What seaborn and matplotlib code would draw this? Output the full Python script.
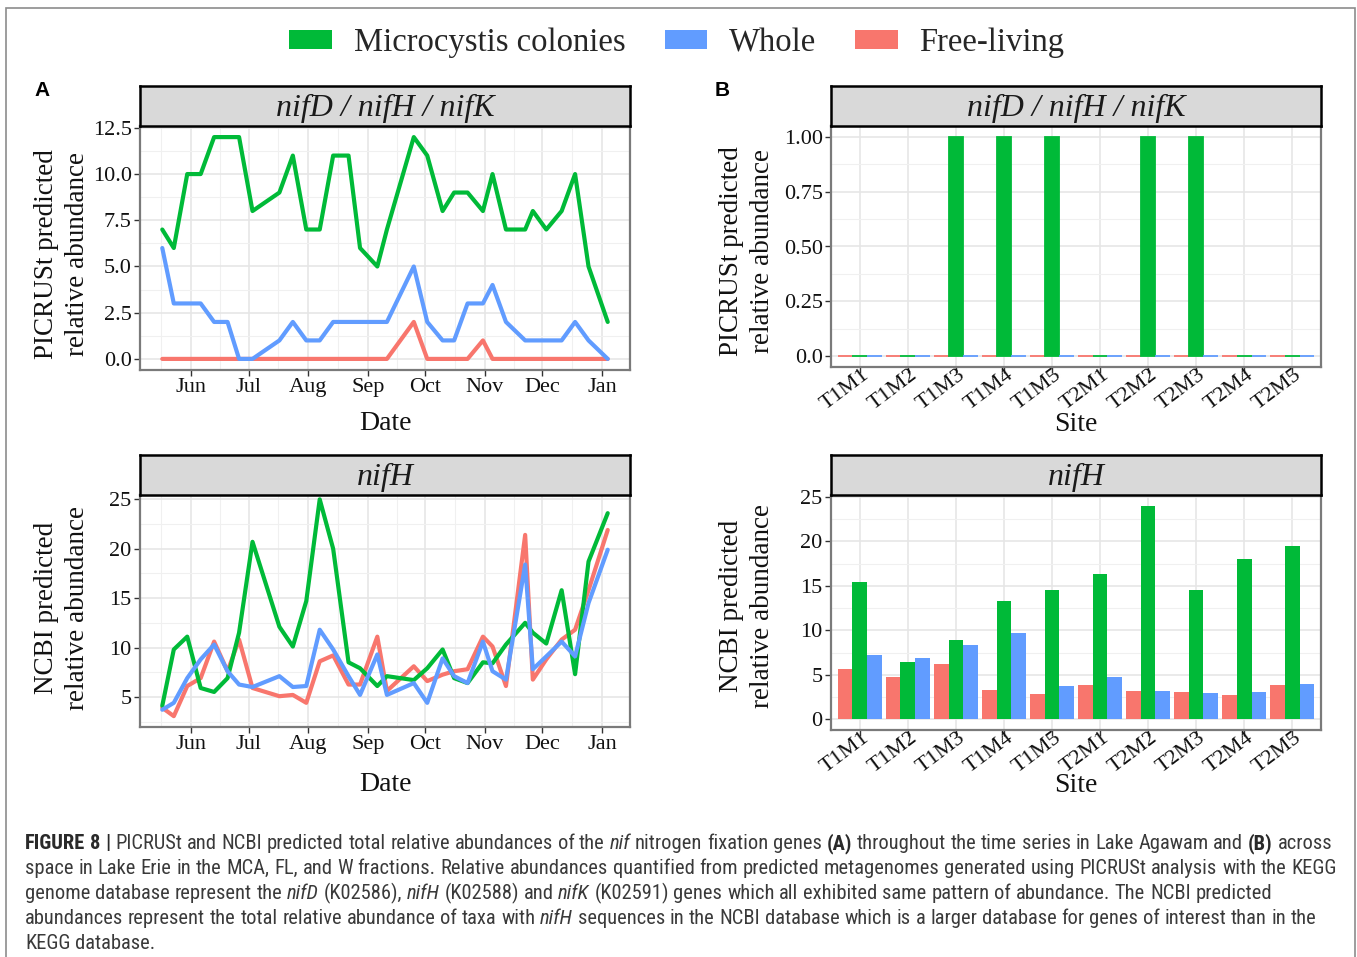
import numpy as np
import pandas as pd
import matplotlib
matplotlib.use("Agg")
import matplotlib.pyplot as plt
import matplotlib.dates as mdates
from matplotlib.patches import Patch, Rectangle
from matplotlib.ticker import FixedLocator, AutoMinorLocator
from matplotlib.transforms import ScaledTranslation
from matplotlib import font_manager
import seaborn as sns

# ---------------- data ----------------
dates = ["2016-05-17", "2016-05-23", "2016-05-30", "2016-06-06", "2016-06-13", "2016-06-20",
         "2016-06-26", "2016-07-03", "2016-07-17", "2016-07-24", "2016-07-31", "2016-08-07",
         "2016-08-14", "2016-08-22", "2016-08-28", "2016-09-06", "2016-09-11", "2016-09-25",
         "2016-10-02", "2016-10-10", "2016-10-16", "2016-10-23", "2016-10-31", "2016-11-05",
         "2016-11-12", "2016-11-22", "2016-11-26", "2016-12-03", "2016-12-11", "2016-12-18",
         "2016-12-25", "2017-01-04"]

picrust_microcystis = [7, 6, 10, 10, 12, 12, 12, 8, 9, 11, 7, 7, 11, 11, 6, 5, 7, 12,
                       11, 8, 9, 9, 8, 10, 7, 7, 8, 7, 8, 10, 5, 2]
picrust_whole = [6, 3, 3, 3, 2, 2, 0, 0, 1, 2, 1, 1, 2, 2, 2, 2, 2, 5,
                 2, 1, 1, 3, 3, 4, 2, 1, 1, 1, 1, 2, 1, 0]
picrust_free = [0, 0, 0, 0, 0, 0, 0, 0, 0, 0, 0, 0, 0, 0, 0, 0, 0, 2,
                0, 0, 0, 0, 1, 0, 0, 0, 0, 0, 0, 0, 0, 0]

ncbi_microcystis = [4.1, 9.8, 11.1, 5.9, 5.5, 6.9, 11.5, 20.7, 12.1, 10.1, 14.7, 25.0,
                    20.0, 8.5, 7.9, 6.1, 7.1, 6.7, 7.9, 9.8, 6.9, 6.4, 8.5, 8.4,
                    10.3, 12.5, 11.5, 10.4, 15.8, 7.3, 18.7, 23.6]
ncbi_whole = [3.7, 4.4, 6.9, 8.8, 10.3, 7.6, 6.25, 6.0, 7.1, 6.0, 6.1, 11.8,
              9.8, 7.1, 5.2, 9.3, 5.2, 6.4, 4.4, 8.9, 7.1, 6.4, 10.6, 7.6,
              6.75, 18.4, 7.8, 9.1, 10.6, 9.1, 14.5, 19.9]
ncbi_free = [3.9, 3.05, 6.1, 6.9, 10.6, 7.6, 10.8, 5.9, 5.07, 5.2, 4.4, 8.6,
             9.2, 6.25, 6.25, 11.1, 5.6, 8.1, 6.6, 7.25, 7.6, 7.8, 11.1, 10.1,
             6.1, 21.4, 6.75, 8.8, 10.8, 11.8, 15.8, 21.9]

sites = ["T1M1", "T1M2", "T1M3", "T1M4", "T1M5", "T2M1", "T2M2", "T2M3", "T2M4", "T2M5"]
site_picrust_free = [0, 0, 0, 0, 0, 0, 0, 0, 0, 0]
site_picrust_microcystis = [0, 0, 1, 1, 1, 0, 1, 1, 0, 0]
site_picrust_whole = [0, 0, 0, 0, 0, 0, 0, 0, 0, 0]
site_ncbi_free = [5.7, 4.7, 6.25, 3.3, 2.85, 3.85, 3.2, 3.1, 2.7, 3.85]
site_ncbi_microcystis = [15.4, 6.4, 8.9, 13.25, 14.55, 16.3, 24.0, 14.5, 18.0, 19.45]
site_ncbi_whole = [7.2, 6.85, 8.4, 9.7, 3.75, 4.8, 3.2, 2.95, 3.1, 4.0]

fractions = ["Free-living", "Microcystis colonies", "Whole"]
legend_order = ["Microcystis colonies", "Whole", "Free-living"]
colors = {"Free-living": "#F8766D", "Microcystis colonies": "#00BA38", "Whole": "#619CFF"}

strip_labels = ["nifD / nifH / nifK", "nifH"]
ylabels = ["PICRUSt predicted\nrelative abundance", "NCBI predicted\nrelative abundance"]


def long_time(free, mic, whole):
    d = pd.to_datetime(dates)
    parts = []
    for name, vals in zip(fractions, [free, mic, whole]):
        parts.append(pd.DataFrame({"date": d, "value": vals, "fraction": name}))
    return pd.concat(parts, ignore_index=True)


def long_site(free, mic, whole):
    parts = []
    for name, vals in zip(fractions, [free, mic, whole]):
        parts.append(pd.DataFrame({"site": sites, "value": vals, "fraction": name}))
    return pd.concat(parts, ignore_index=True)


dfA1 = long_time(picrust_free, picrust_microcystis, picrust_whole)
dfA2 = long_time(ncbi_free, ncbi_microcystis, ncbi_whole)
dfB1 = long_site(site_picrust_free, site_picrust_microcystis, site_picrust_whole)
dfB2 = long_site(site_ncbi_free, site_ncbi_microcystis, site_ncbi_whole)

# ---------------- style ----------------
sns.set_theme(style="white")
SERIF = ["Liberation Serif", "DejaVu Serif"]
plt.rcParams["font.family"] = SERIF
plt.rcParams["axes.edgecolor"] = "#7a7a7a"

W, H = 1357, 957
fig = plt.figure(figsize=(W / 100, H / 100), dpi=100)
fig.patch.set_facecolor("white")


def fx(px):
    return px / W


def fy(py):
    return 1 - py / H


def add_box(x0, x1, y0, y1):
    return fig.add_axes([fx(x0), fy(y1), (x1 - x0) / W, (y1 - y0) / H])


def style_axes(ax):
    ax.set_facecolor("white")
    for s in ax.spines.values():
        s.set_color("#7a7a7a")
        s.set_linewidth(1.6)
    ax.grid(which="major", color="#E6E6E6", lw=1.2)
    ax.grid(which="minor", color="#F0F0F0", lw=0.8)
    ax.set_axisbelow(True)
    ax.tick_params(axis="both", which="major", labelsize=16, length=4, width=1,
                   color="#333333", labelcolor="#111111", pad=2, bottom=True, left=True)
    ax.tick_params(axis="both", which="minor", length=0)


def add_strip(x0, x1, y0, y1, label):
    s = add_box(x0, x1, y0, y1)
    s.set_facecolor("#D9D9D9")
    for sp in s.spines.values():
        sp.set_color("black")
        sp.set_linewidth(1.8)
    s.set_xticks([])
    s.set_yticks([])
    s.text(0.5, 0.45, label, ha="center", va="center", fontsize=23,
           style="italic", family=SERIF, color="#1a1a1a", transform=s.transAxes)


def set_labels(ax, xlabel, ylabel, ax_px, ylab_right_px, xlab_top_px, ylab_center_px):
    x0, x1, y0, y1 = ax_px
    ax.set_xlabel(xlabel, fontsize=20, color="#111111", va="top")
    ax.set_ylabel(ylabel, fontsize=19.5, color="#111111", linespacing=1.3)
    ax.xaxis.set_label_coords(0.5, -(xlab_top_px - y1) / (y1 - y0))
    ax.yaxis.set_label_coords(-(x0 - ylab_right_px) / (x1 - x0), (y1 - ylab_center_px) / (y1 - y0))


def time_axis(ax, df, ylim, yticks, yticklabels):
    sns.lineplot(data=df, x="date", y="value", hue="fraction", hue_order=fractions,
                 palette=colors, linewidth=3, estimator=None, legend=False, ax=ax)
    d = pd.to_datetime(dates)
    span = (d.max() - d.min()) * 0.05
    ax.set_xlim(d.min() - span, d.max() + span)
    ax.xaxis.set_major_locator(mdates.MonthLocator())
    ax.xaxis.set_major_formatter(mdates.DateFormatter("%b"))
    month_starts = pd.date_range("2016-05-01", "2017-02-01", freq="MS")
    mnum = mdates.date2num(month_starts)
    ax.xaxis.set_minor_locator(FixedLocator((mnum[:-1] + mnum[1:]) / 2))
    ax.set_ylim(*ylim)
    ax.set_yticks(yticks)
    ax.set_yticklabels(yticklabels)
    ax.yaxis.set_minor_locator(AutoMinorLocator(2))
    style_axes(ax)


def site_axis(ax, df, ylim, yticks, yticklabels, edges=False):
    sns.barplot(data=df, x="site", y="value", hue="fraction", hue_order=fractions,
                order=sites, palette=colors, saturation=1, width=0.92, gap=0,
                errorbar=None, legend=False, linewidth=0, ax=ax)
    if edges:
        for p in ax.patches:
            p.set_edgecolor(p.get_facecolor())
            p.set_linewidth(1.3)
    ax.set_xlim(-0.6, len(sites) - 0.4)
    ax.set_xticks(range(len(sites)))
    ax.set_xticklabels(sites, rotation=37, ha="right", va="center", rotation_mode="anchor")
    ax.set_ylim(*ylim)
    ax.set_yticks(yticks)
    ax.set_yticklabels(yticklabels)
    ax.yaxis.set_minor_locator(AutoMinorLocator(2))
    style_axes(ax)
    ax.tick_params(axis="x", which="major", pad=0)
    offset = ScaledTranslation(7 / 100, 0, fig.dpi_scale_trans)
    for lbl in ax.get_xticklabels():
        lbl.set_transform(lbl.get_transform() + offset)


# --- Panel A top ---
pA1 = (140, 630, 126, 370)
axA1 = add_box(*pA1)
time_axis(axA1, dfA1, (-0.6, 12.6), [0, 2.5, 5, 7.5, 10, 12.5],
          ["0.0", "2.5", "5.0", "7.5", "10.0", "12.5"])
set_labels(axA1, "Date", ylabels[0], pA1, 90, 411, 254)
add_strip(140, 630, 86, 126, strip_labels[0])

# --- Panel A bottom ---
pA2 = (140, 630, 495, 727)
axA2 = add_box(*pA2)
vals = np.array(ncbi_free + ncbi_microcystis + ncbi_whole)
rng = vals.max() - vals.min()
time_axis(axA2, dfA2, (vals.min() - 0.05 * rng, vals.max() + 0.02 * rng), [5, 10, 15, 20, 25],
          ["5", "10", "15", "20", "25"])
set_labels(axA2, "Date", ylabels[1], pA2, 90, 772, 608)
add_strip(140, 630, 455, 495, strip_labels[1])

# --- Panel B top ---
pB1 = (831, 1321, 126, 367)
axB1 = add_box(*pB1)
site_axis(axB1, dfB1, (-0.05, 1.05), [0, 0.25, 0.5, 0.75, 1.0],
          ["0.0", "0.25", "0.50", "0.75", "1.00"], edges=True)
set_labels(axB1, "Site", ylabels[0], pB1, 775, 412, 251)
add_strip(831, 1321, 86, 126, strip_labels[0])

# --- Panel B bottom ---
pB2 = (831, 1321, 495, 730)
axB2 = add_box(*pB2)
site_axis(axB2, dfB2, (-1.2, 25.2), [0, 5, 10, 15, 20, 25],
          ["0", "5", "10", "15", "20", "25"])
set_labels(axB2, "Site", ylabels[1], pB2, 775, 773, 606)
add_strip(831, 1321, 455, 495, strip_labels[1])

# --- legend ---
handles = [Patch(facecolor=colors[k], edgecolor="none") for k in legend_order]
fig.legend(handles, legend_order, loc="center", bbox_to_anchor=(fx(677), fy(43)),
           ncol=3, frameon=False, prop={"family": SERIF, "size": 23.5},
           handlelength=1.3, handleheight=0.5, handletextpad=0.67, columnspacing=1.2)

# --- panel letters ---
fig.text(fx(42), fy(90), "A", fontsize=15, weight="bold", family="Liberation Sans",
         ha="center", va="center", color="black")
fig.text(fx(722), fy(90), "B", fontsize=15, weight="bold", family="Liberation Sans",
         ha="center", va="center", color="black")

# --- frame ---
fig.add_artist(Rectangle((fx(6), fy(990)), (1355 - 6) / W, (990 - 8) / H,
                         transform=fig.transFigure, fill=False, ec="#8c8c8c", lw=1.2))

# --- caption ---
available = {f.name for f in font_manager.fontManager.ttflist}
cap_family = "Liberation Sans"
for cand in ["Liberation Sans Narrow", "Arial Narrow", "Roboto Condensed", "Open Sans Condensed"]:
    if cand in available:
        cap_family = cand
        break

B, I, N = "bold", "italic", "normal"
caption_lines = [
    [("FIGURE 8 |", B), ("PICRUSt and NCBI predicted total relative abundances of the", N), ("nif", I),
     ("nitrogen fixation genes", N), ("(A)", B), ("throughout the time series in Lake Agawam and", N),
     ("(B)", B), ("across", N)],
    [("space in Lake Erie in the MCA, FL, and W fractions. Relative abundances quantified from predicted "
      "metagenomes generated using PICRUSt analysis with the KEGG", N)],
    [("genome database represent the", N), ("nifD", I), ("(K02586),", N), ("nifH", I), ("(K02588) and", N),
     ("nifK", I), ("(K02591) genes which all exhibited same pattern of abundance. The NCBI predicted", N)],
    [("abundances represent the total relative abundance of taxa with", N), ("nifH", I),
     ("sequences in the NCBI database which is a larger database for genes of interest than in the", N)],
    [("KEGG database.", N)],
]

renderer = fig.canvas.get_renderer()


def text_kw(kind, size):
    kw = dict(family=cap_family, fontsize=size, color="#3a3a3a")
    if kind == B:
        kw["weight"] = "bold"
        kw["color"] = "#2a2a2a"
    if kind == I:
        kw["style"] = "italic"
    return kw


def measure(s, kind, size):
    t = fig.text(0, 0, s, **text_kw(kind, size))
    w = t.get_window_extent(renderer).width
    t.remove()
    return w


def line_width(line, size):
    total = 0
    for seg, kind in line:
        for w in seg.split(" "):
            total += measure(w, kind, size)
        n_words = len(seg.split(" "))
        total += n_words * (measure("a a", kind, size) - measure("aa", kind, size))
    return total


size0 = 12.0
w0 = line_width(caption_lines[0], size0)
cap_size = min(size0 * 1305 / w0, 15.0)

baselines = [849, 874, 899, 924, 949]
for line, base in zip(caption_lines, baselines):
    x = 25.0
    for seg, kind in line:
        sp = measure("a a", kind, cap_size) - measure("aa", kind, cap_size)
        for word in seg.split(" "):
            t = fig.text(fx(x), fy(base), word, ha="left", va="baseline", **text_kw(kind, cap_size))
            x += t.get_window_extent(renderer).width + sp

fig.savefig("out.png", dpi=100, facecolor="white")
